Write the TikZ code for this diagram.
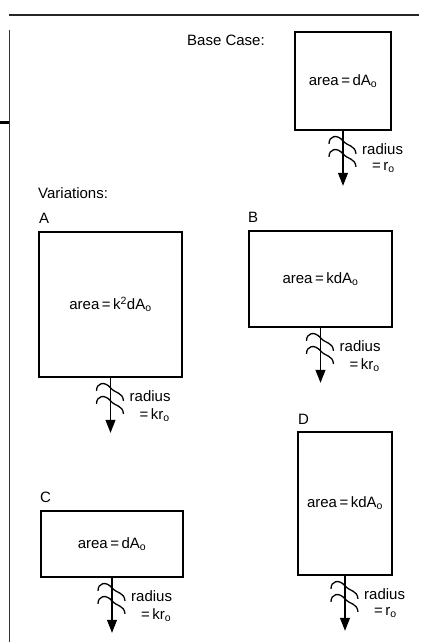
\documentclass[tikz,border=0pt]{standalone}
\usepackage{fontspec}
\setmainfont{Liberation Sans}
\usetikzlibrary{arrows.meta,calc}
\newcommand\subo{\textsubscript{o}}
\tikzset{
  every node/.style={font=\fontsize{15}{18}\selectfont},
  boxnode/.style={draw, line width=1.6pt, inner sep=0pt, align=center},
  wire/.style={line width=1.1pt, -{Triangle[width=10pt,length=13pt]}},
  squigline/.style={line width=1.3pt},
  lbl/.style={anchor=west, inner sep=0pt},
  squig/.pic={
    \draw[squigline] (-14,9) .. controls (-14,1) and (-6,-1) .. (0,6) .. controls (5,12) and (12,10) .. (13,19);
    \draw[squigline] (-14,22) .. controls (-14,14) and (-6,12) .. (0,19) .. controls (5,25) and (12,23) .. (13,32);
  }
}
\begin{document}
\begin{tikzpicture}[x=1pt,y=-1pt]
\useasboundingbox (0,0) rectangle (433,642);
% frame lines
\draw[line width=1.4pt, black!85] (9,15) -- (419,15);
\draw[line width=1pt, black!80] (9.5,30) -- (9.5,642);
\draw[line width=3pt] (0,122) -- (9,122);
% headings
\node[lbl] (basecase) at (187,40) {Base Case:};
\node[lbl] (variations) at (38,193) {Variations:};
\node[lbl] (la) at (39,218) {A};
\node[lbl] (lb) at (248,217) {B};
\node[lbl] (lc) at (40,497) {C};
\node[lbl] (ld) at (298,419) {D};
% boxes
\node[boxnode, minimum width=96pt, minimum height=98pt] (b0) at (343,81) {area\,=\,dA\subo};
\node[boxnode, minimum width=143pt, minimum height=145pt] (bA) at (110.5,304.5) {area\,=\,k\textsuperscript{2}dA\subo};
\node[boxnode, minimum width=143pt, minimum height=96pt] (bB) at (320.5,279) {area\,=\,kdA\subo};
\node[boxnode, minimum width=142pt, minimum height=66pt] (bC) at (112,544) {area\,=\,dA\subo};
\node[boxnode, minimum width=94pt, minimum height=143pt] (bD) at (345,503.5) {area\,=\,kdA\subo};
% wires
\foreach \b/\r in {b0/{=\,r\subo}, bA/{=\,kr\subo}, bB/{=\,kr\subo}, bC/{=\,kr\subo}, bD/{=\,r\subo}}{
  \coordinate (\b tip) at ($(\b.south)+(0,55)$);
  \draw[wire] (\b.south) -- (\b tip);
  \pic at ($(\b.south)+(0,4)$) {squig};
  \node[lbl] (\b rad) at ($(\b.south)+(19,18)$) {radius};
  \node[lbl] (\b eq) at ($(\b.south)+(29,37)$) {\r};
}
\end{tikzpicture}
\end{document}
